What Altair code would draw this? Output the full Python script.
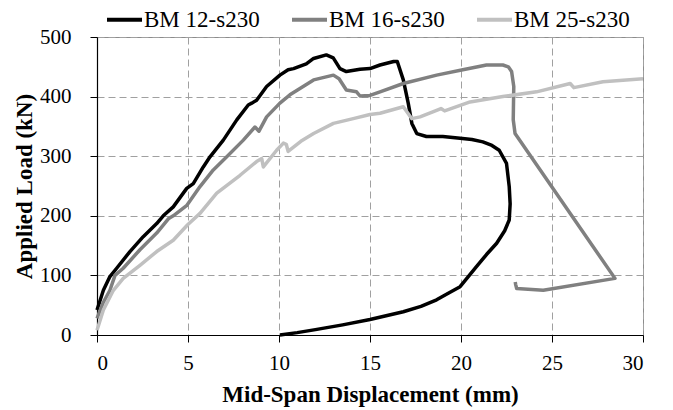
import altair as alt
import pandas as pd

# BM 12-s230
bm12_x = [0, 0.35, 0.71, 1.08, 1.81, 2.54, 3.28, 3.64, 4.19, 4.93, 5.29, 5.84, 6.21, 6.94, 7.68, 8.31, 8.5,
          8.77, 9.32, 10.05, 10.5, 10.8, 11.5, 11.9, 12.6, 12.98, 13.35, 13.7, 14.45, 15.0, 15.55, 16.3,
          16.5, 16.83, 17.1, 17.3, 17.57, 18.1, 19.0, 19.95, 20.6, 21.2, 21.7, 22.1, 22.5, 22.65, 22.7,
          22.65, 22.4, 21.96, 21.4, 20.86, 19.95, 19.3, 18.66, 17.8, 16.83, 15.0, 13.5, 12.0, 11.0, 10.05]
bm12_y = [42, 75, 98, 112, 140, 165, 187, 200, 215, 246, 254, 282, 299, 327, 361, 386, 389,
          394, 417, 436, 445, 447, 455, 464, 470, 465, 447, 442, 446, 447, 453, 459,
          459, 428, 389, 355, 338, 333, 333, 330, 328, 324, 318, 310, 288, 249, 220,
          193, 175, 154, 135, 115, 81, 70, 59, 48, 39, 26, 17, 9, 4, 0]

# BM 16-s230
bm16_x = [0, 0.35, 0.71, 0.99, 1.44, 2.36, 3.28, 3.92, 4.19, 4.92, 5.66, 6.39, 7.13, 8.04, 8.68, 8.9, 9.32,
          10.05, 10.6, 11.9, 12.99, 13.3, 13.7, 14.26, 14.45, 15.0, 15.55, 16.83, 18.66, 20.1,
          21.4, 22.3, 22.6, 22.78, 22.9, 22.88, 22.87, 22.97, 28.46, 24.52, 23.06, 23.0, 22.98]
bm16_y = [28, 55, 75, 100, 112, 143, 171, 195, 200, 217, 249, 277, 299, 327, 349, 342, 366,
          389, 403, 428, 436, 430, 411, 408, 401, 402, 408, 422, 436, 445,
          453, 453, 450, 442, 417, 380, 361, 338, 95, 75, 78, 85, 89]

# BM 25-s230
bm25_x = [0, 0.35, 0.9, 1.44, 2.36, 3.28, 4.19, 4.98, 5.66, 6.58, 7.86, 8.77, 9.05, 9.14, 9.87, 10.24,
          10.4, 10.5, 11.2, 11.9, 12.99, 14.08, 15.0, 15.55, 16.83, 17.3, 17.75, 18.66, 18.9, 19.1,
          20.5, 22.3, 24.15, 26.0, 26.2, 27.8, 30.0]
bm25_y = [8, 42, 75, 95, 117, 140, 159, 185, 204, 238, 268, 291, 296, 282, 310, 322,
          320, 308, 325, 338, 355, 363, 370, 372, 383, 363, 366, 377, 380, 376,
          391, 400, 408, 422, 415, 425, 430]

series_names = ["BM 12-s230", "BM 16-s230", "BM 25-s230"]
series_colors = ["#000000", "#808080", "#c0c0c0"]
x_ticks = [0, 5, 10, 15, 20, 25, 30]
y_ticks = [0, 100, 200, 300, 400, 500]

rows = []
for name, xs, ys in zip(series_names, [bm12_x, bm16_x, bm25_x], [bm12_y, bm16_y, bm25_y]):
    for i, (a, b) in enumerate(zip(xs, ys)):
        rows.append({"series": name, "x": a, "y": b, "i": i})
df = pd.DataFrame(rows)

FONT = "Liberation Serif"

chart = alt.Chart(df).mark_line(strokeWidth=3.5, strokeJoin="round", strokeCap="butt").encode(
    x=alt.X("x:Q", scale=alt.Scale(domain=[0, 30], nice=False),
            axis=alt.Axis(values=x_ticks, title="Mid-Span Displacement (mm)", tickSize=7,
                          labelPadding=10, titleY=66, titleBaseline="alphabetic")),
    y=alt.Y("y:Q", scale=alt.Scale(domain=[0, 500], nice=False),
            axis=alt.Axis(values=y_ticks, title="Applied Load (kN)", tickSize=7,
                          labelPadding=19, titleX=-73, titleY=149, titleBaseline="middle",
                          titleAngle=270)),
    color=alt.Color("series:N", scale=alt.Scale(domain=series_names, range=series_colors),
                    legend=alt.Legend(title=None, orient="none", legendX=8, legendY=-37,
                                      direction="horizontal", symbolType="stroke",
                                      symbolSize=1225, symbolStrokeWidth=4, labelOffset=0,
                                      columnPadding=24, labelFontSize=23, labelFont=FONT,
                                      labelColor="#000000", padding=0)),
    order="i:Q",
).properties(
    width=546, height=298,
    autosize=alt.AutoSizeParams(type="none"),
    padding={"left": 97, "top": 37, "right": 30, "bottom": 75},
).configure_view(
    stroke="#8c8c8c", strokeWidth=1
).configure_axis(
    gridDash=[7, 4], gridColor="#a0a0a0", gridWidth=1,
    domainColor="#000000", tickColor="#000000", domainWidth=1.2,
    labelFont=FONT, labelFontSize=21, labelColor="#000000",
    titleFont=FONT, titleFontSize=23, titleFontWeight="bold", titleColor="#000000",
)

chart.save("out.html", embed_options={"renderer": "svg", "actions": False})
